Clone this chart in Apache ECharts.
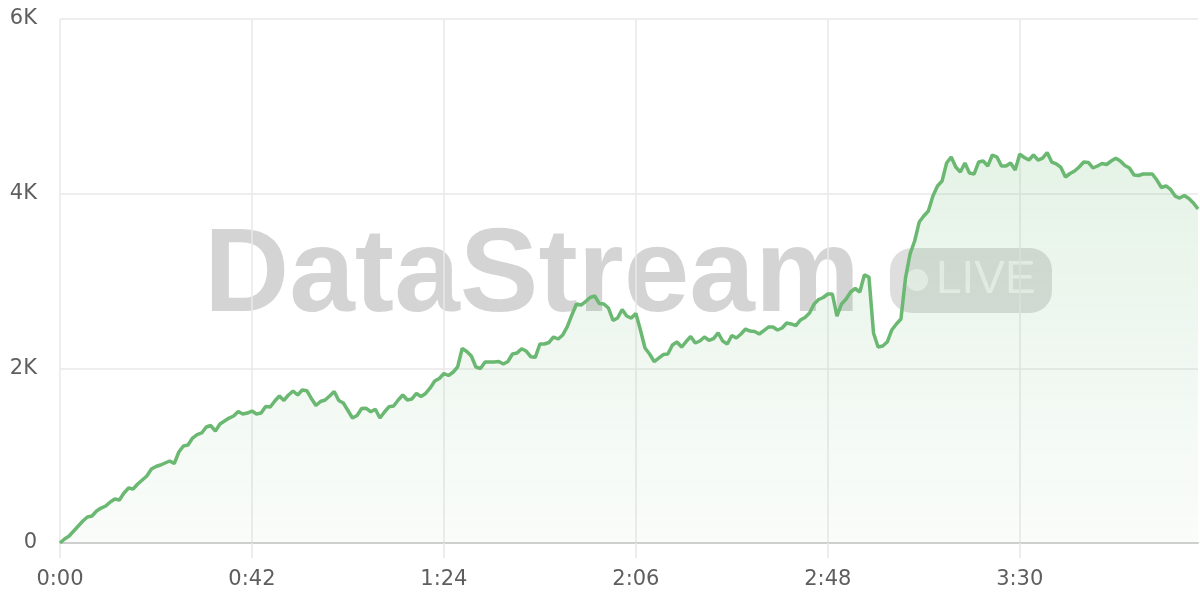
<!DOCTYPE html>
<html>
<head>
<meta charset="utf-8">
<script src="https://cdn.jsdelivr.net/npm/echarts@6/dist/echarts.min.js"></script>
<style>
html,body{margin:0;padding:0;background:#fff;}
#chart{width:1200px;height:600px;}
</style>
</head>
<body>
<div id="chart"></div>
<script>
// Viewers (per second)
var values = [
  0,46,80,137,195,252,298,309,366,400,
  424,470,504,492,573,630,618,676,721,767,
  847,876,893,916,939,910,1042,1111,1122,1202,
  1242,1260,1328,1345,1282,1363,1397,1431,1454,1506,
  1477,1488,1511,1477,1488,1563,1557,1626,1683,1632,
  1695,1740,1695,1752,1744,1655,1574,1620,1637,1683,
  1735,1632,1603,1517,1431,1460,1540,1542,1503,1531,
  1431,1500,1561,1569,1637,1695,1637,1649,1712,1677,
  1712,1775,1855,1884,1941,1918,1955,2015,2227,2193,
  2141,2015,1998,2072,2072,2072,2078,2050,2078,2164,
  2175,2225,2198,2133,2126,2279,2279,2296,2359,2336,
  2382,2477,2611,2737,2725,2765,2811,2828,2742,2737,
  2691,2548,2576,2674,2599,2576,2628,2439,2233,2164,
  2078,2118,2158,2164,2267,2301,2244,2307,2364,2290,
  2313,2359,2319,2341,2405,2313,2279,2376,2347,2393,
  2450,2427,2422,2393,2433,2473,2473,2439,2462,2519,
  2508,2490,2553,2582,2634,2737,2788,2811,2851,2851,
  2599,2737,2794,2874,2914,2874,3069,3046,2405,2244,
  2256,2301,2439,2508,2565,3034,3310,3458,3675,3744,
  3801,3973,4088,4145,4351,4420,4305,4248,4351,4237,
  4225,4362,4374,4317,4443,4420,4317,4317,4351,4271,
  4454,4414,4385,4443,4385,4408,4471,4362,4340,4300,
  4191,4231,4259,4305,4362,4357,4294,4317,4345,4334,
  4374,4405,4374,4322,4294,4214,4208,4225,4225,4225,
  4156,4071,4088,4048,3973,3950,3979,3945,3893,3824
];
// Time categories: one per second, shown as m:ss
var categories = values.map(function (_, i) {
  var m = Math.floor(i / 60), s = i % 60;
  return m + ':' + (s < 10 ? '0' : '') + s;
});
var yTicks = [0, 2000, 4000, 6000];
var yTickLabels = ['0', '2K', '4K', '6K'];
var watermarkText = 'DataStream';
var badgeText = 'LIVE';

var chart = echarts.init(document.getElementById('chart'), null, {renderer: 'canvas'});
var FONT = 'Liberation Sans, Arial, sans-serif';
var LABEL_FONT = 'DejaVu Sans, sans-serif';
var gridColor = '#e8e8e8';

chart.setOption({
  animation: false,
  grid: {left: 60, right: 2, top: 19, bottom: 57, containLabel: false},
  graphic: [
    {
      type: 'text', left: 204, top: 219, z: 0, zlevel: 0,
      style: {
        text: watermarkText,
        font: 'bold 118px ' + FONT,
        fill: 'rgba(0,0,0,0.17)'
      }
    },
    {
      type: 'rect', z: 0,
      shape: {x: 890, y: 248, width: 162, height: 65, r: 22},
      style: {fill: 'rgba(0,0,0,0.13)'}
    },
    {
      type: 'circle', z: 0,
      shape: {cx: 917, cy: 280, r: 11},
      style: {fill: 'rgba(255,255,255,0.6)'}
    },
    {
      type: 'text', left: 936, top: 257, z: 0,
      style: {
        text: badgeText,
        font: '46px ' + FONT,
        fill: 'rgba(255,255,255,0.6)'
      }
    }
  ],
  xAxis: {
    type: 'category',
    data: categories,
    boundaryGap: false,
    axisLine: {show: true, lineStyle: {color: '#cfcfcf', width: 2}},
    axisTick: {show: true, interval: 41, length: 15, lineStyle: {color: gridColor, width: 1.5}},
    axisLabel: {interval: 41, color: '#5e5e5e', fontSize: 21, fontFamily: LABEL_FONT, margin: 26},
    splitLine: {show: true, interval: 41, lineStyle: {color: gridColor, width: 1.5}}
  },
  yAxis: {
    type: 'value',
    min: 0, max: 6000, interval: 2000,
    axisLine: {show: false},
    axisTick: {show: false},
    axisLabel: {
      color: '#5e5e5e', fontSize: 21, fontFamily: LABEL_FONT, margin: 23,
      formatter: function (v) { var k = yTicks.indexOf(v); return k >= 0 ? yTickLabels[k] : ''; }
    },
    splitLine: {show: true, lineStyle: {color: gridColor, width: 1.5}}
  },
  series: [{
    type: 'line',
    data: values,
    showSymbol: false,
    symbol: 'none',
    z: 3,
    lineStyle: {color: '#6bb872', width: 3.5},
    areaStyle: {
      color: new echarts.graphic.LinearGradient(0, 0, 0, 1, [
        {offset: 0, color: 'rgba(107,184,114,0.25)'},
        {offset: 1, color: 'rgba(107,184,114,0.05)'}
      ])
    }
  }]
});
</script>
</body>
</html>
